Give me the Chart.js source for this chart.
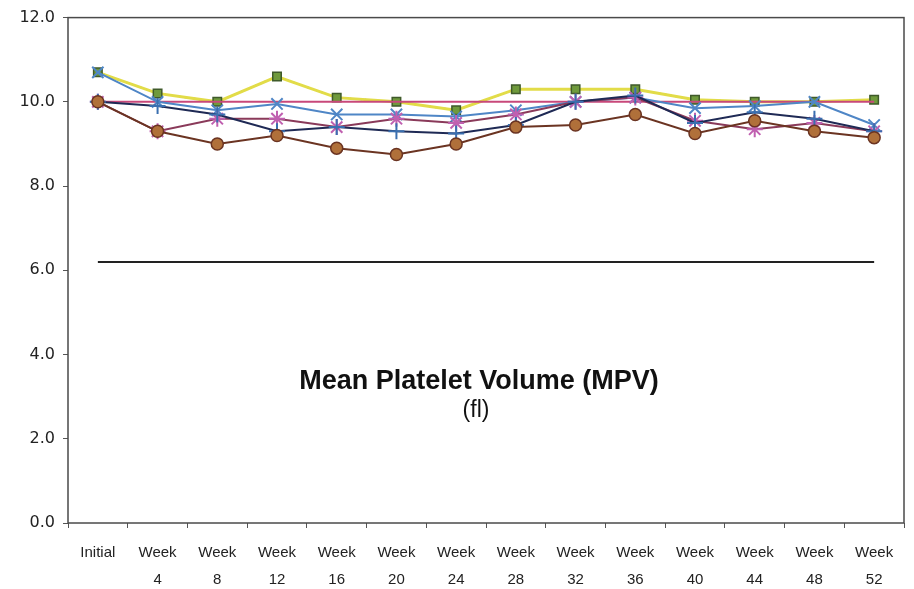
<!DOCTYPE html>
<html>
<head>
<meta charset="utf-8">
<script src="https://cdn.jsdelivr.net/npm/chart.js@4.4.1/dist/chart.umd.min.js"></script>
<style>
    html, body { margin: 0; padding: 0; background: #ffffff; overflow: hidden; }
    canvas { display: block; }
</style>
</head>
<body>
<canvas id="mpvChart" width="914" height="589"></canvas>
<script>
// Categories and series
const categories = [['Initial'], ['Week', '4'], ['Week', '8'], ['Week', '12'], ['Week', '16'], ['Week', '20'],
    ['Week', '24'], ['Week', '28'], ['Week', '32'], ['Week', '36'], ['Week', '40'], ['Week', '44'], ['Week', '48'], ['Week', '52']];

const squareSeries   = [10.7, 10.2, 10.0, 10.6, 10.1, 10.0, 9.8, 10.3, 10.3, 10.3, 10.05, 10.0, 10.0, 10.05];
const constantSeries = [10.0, 10.0, 10.0, 10.0, 10.0, 10.0, 10.0, 10.0, 10.0, 10.0, 10.0, 10.0, 10.0, 10.0];
const xSeries        = [10.7, 10.0, 9.8, 9.95, 9.7, 9.7, 9.65, 9.8, 10.0, 10.1, 9.85, 9.9, 10.0, 9.45];
const starSeries     = [10.0, 9.3, 9.6, 9.6, 9.4, 9.6, 9.5, 9.7, 10.0, 10.1, 9.55, 9.35, 9.5, 9.3];
const plusSeries     = [10.0, 9.9, 9.7, 9.3, 9.4, 9.3, 9.25, 9.45, 10.0, 10.15, 9.5, 9.75, 9.6, 9.3];
const circleSeries   = [10.0, 9.3, 9.0, 9.2, 8.9, 8.75, 9.0, 9.4, 9.45, 9.7, 9.25, 9.55, 9.3, 9.15];
const referenceLine  = [6.2, 6.2, 6.2, 6.2, 6.2, 6.2, 6.2, 6.2, 6.2, 6.2, 6.2, 6.2, 6.2, 6.2];

const yTicks = [0, 2, 4, 6, 8, 10, 12];

const titleLines = ['Mean Platelet Volume (MPV)', '(fl)'];

// Frame round the plot area and the title inside it
const framePlugin = {
    id: 'frame',
    beforeDatasetsDraw(chart) {
        const { ctx, chartArea: a } = chart;
        ctx.save();
        ctx.strokeStyle = '#4a4a4a';
        ctx.lineWidth = 1.5;
        ctx.strokeRect(a.left, a.top, a.right - a.left, a.bottom - a.top);
        ctx.fillStyle = '#111111';
        ctx.textAlign = 'center';
        ctx.textBaseline = 'middle';
        ctx.font = 'bold 27px "Liberation Sans", Arial, sans-serif';
        ctx.fillText(titleLines[0], 479, 382);
        ctx.font = '23px "Liberation Sans", Arial, sans-serif';
        ctx.fillText(titleLines[1], 476, 411);
        ctx.restore();
    }
};

function line(label, data, color, opts) {
    return Object.assign({
        label: label,
        data: data,
        borderColor: color,
        backgroundColor: color,
        borderWidth: 2,
        pointRadius: 6,
        pointBorderWidth: 1.5,
        tension: 0
    }, opts);
}

document.addEventListener('DOMContentLoaded', function() {
    const ctx = document.getElementById('mpvChart').getContext('2d');

    new Chart(ctx, {
        type: 'line',
        data: {
            labels: categories,
            datasets: [
                line('Reference', referenceLine, '#222222', { pointRadius: 0, borderWidth: 2 }),
                line('Circle', circleSeries, '#6b3422', {
                    pointStyle: 'circle', backgroundColor: '#b0703a', pointBorderColor: '#6b3422', pointRadius: 6
                }),
                line('Plus', plusSeries, '#1f2a55', {
                    pointStyle: 'cross', pointBorderColor: '#3a6fb0', pointRadius: 8, pointBorderWidth: 2
                }),
                line('Star', starSeries, '#8a3a5a', {
                    pointStyle: 'star', pointBorderColor: '#c060b0', pointRadius: 8, pointBorderWidth: 2
                }),
                line('X', xSeries, '#4f86c6', {
                    pointStyle: 'crossRot', pointBorderColor: '#4f86c6', pointRadius: 8, pointBorderWidth: 2
                }),
                line('Constant', constantSeries, '#c8487a', {
                    pointRadius: [6, 0, 0, 0, 0, 0, 0, 0, 0, 0, 0, 0, 0, 0],
                    pointStyle: 'rect', backgroundColor: '#8b3a2a', pointBorderColor: '#5a2a20'
                }),
                line('Square', squareSeries, '#e2dc48', {
                    pointStyle: 'rect', backgroundColor: '#6f9a3c', pointBorderColor: '#3f5a2a',
                    pointRadius: 6, borderWidth: 3
                }),
                // dark dotted trace that runs along the yellow line
                line('Square dots', squareSeries, '#333333', {
                    pointRadius: 0, borderWidth: 1.5, borderDash: [2, 3]
                })
            ]
        },
        options: {
            responsive: false,
            animation: false,
            layout: {
                padding: { top: 17, right: 2, left: 0, bottom: 0 }
            },
            plugins: {
                legend: { display: false },
                tooltip: { enabled: false }
            },
            scales: {
                x: {
                    offset: true,
                    grid: {
                        offset: true,
                        drawOnChartArea: false,
                        tickLength: 5,
                        color: '#555555'
                    },
                    border: { display: false },
                    ticks: {
                        color: '#222222',
                        maxRotation: 0,
                        autoSkip: false,
                        padding: 12,
                        font: { family: '"Liberation Sans", Arial, sans-serif', size: 15, lineHeight: 1.75 }
                    },
                    afterFit(scale) {
                        scale.height = 66;
                        scale.paddingLeft = 0;
                        scale.paddingRight = 0;
                    }
                },
                y: {
                    min: 0,
                    max: 12,
                    afterBuildTicks(scale) {
                        scale.ticks = yTicks.map(v => ({ value: v }));
                    },
                    grid: {
                        drawOnChartArea: false,
                        tickLength: 5,
                        color: '#555555'
                    },
                    border: { display: false },
                    ticks: {
                        color: '#222222',
                        padding: 8,
                        callback: v => v.toFixed(1),
                        font: { family: '"DejaVu Sans", Verdana, sans-serif', size: 16 }
                    },
                    afterFit(scale) { scale.width = 68; }
                }
            }
        },
        plugins: [framePlugin]
    });
});
</script>
</body>
</html>
